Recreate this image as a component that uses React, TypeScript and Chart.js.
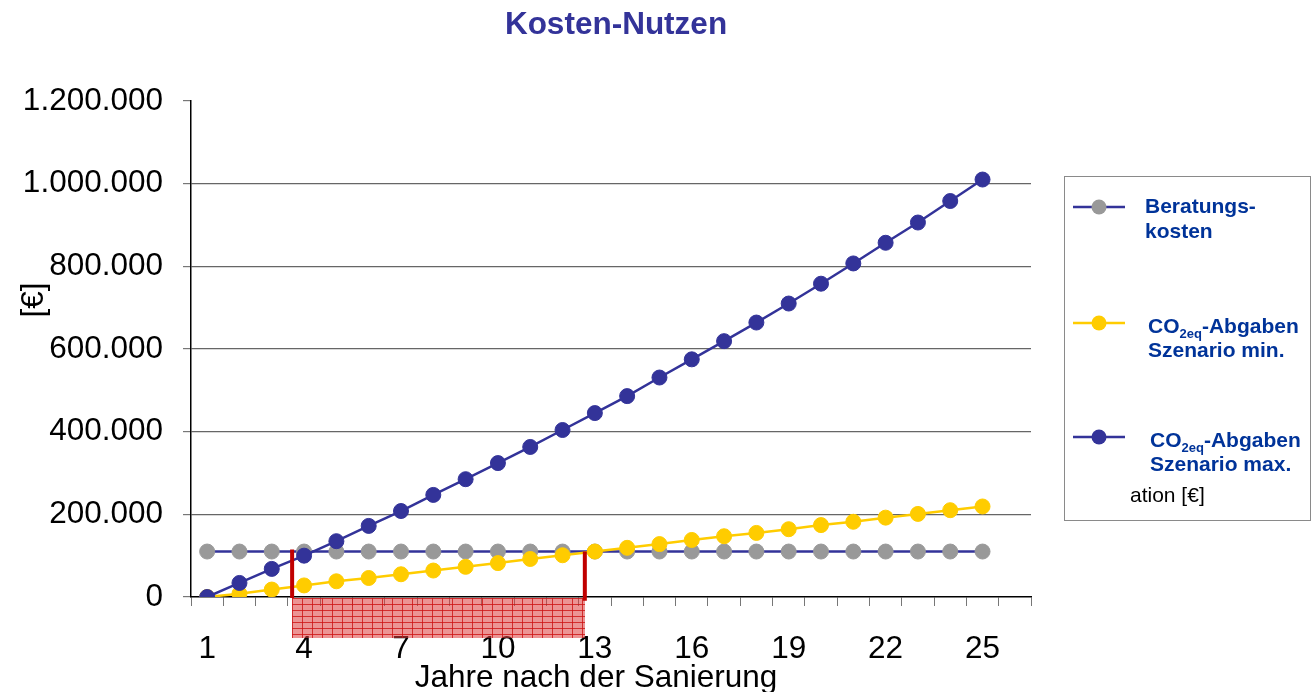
import React, { useEffect, useRef } from 'react';
import { Chart, registerables } from 'chart.js';

Chart.register(...registerables);

// ---- data ----
const years: string[] = ['1','2','3','4','5','6','7','8','9','10','11','12','13','14','15','16','17','18','19','20','21','22','23','24','25','26'];
const xTickLabels: string[] = ['1','4','7','10','13','16','19','22','25'];
const yTicks: number[] = [0, 200000, 400000, 600000, 800000, 1000000, 1200000];

const beratungskosten: number[] = [110000,110000,110000,110000,110000,110000,110000,110000,110000,110000,110000,110000,110000,110000,110000,110000,110000,110000,110000,110000,110000,110000,110000,110000,110000];
const szenarioMin: number[] = [0,8000,18000,28000,38000,46000,55000,64000,73000,82000,92000,101000,110000,119000,128000,138000,147000,155000,164000,174000,182000,192000,201000,210000,219000];
const szenarioMax: number[] = [0,34000,68000,100000,135000,172000,208000,247000,285000,324000,363000,404000,445000,486000,531000,575000,619000,664000,710000,758000,807000,857000,906000,958000,1010000];

// payback markers (in years) and their vertical extents (in €)
const paybackStartYear = 3.63;
const paybackEndYear = 12.69;
const paybackStartTop = 115000;
const paybackEndTop = 110000;
const paybackEndBottom = -9000;
const bandBottom = -96000;

const FONT = "'Liberation Sans', Arial, Helvetica, sans-serif";
const BLUE = '#333399';
const YELLOW = '#FFCC00';
const GRAY = '#999999';
const LEGEND_BLUE = '#003399';

const fmt = (v: number) => String(Math.round(v)).replace(/\B(?=(\d{3})+(?!\d))/g, '.');

function makePattern(ctx: CanvasRenderingContext2D) {
  const pc = document.createElement('canvas');
  pc.width = 10;
  pc.height = 6;
  const p = pc.getContext('2d')!;
  p.fillStyle = 'rgba(220,60,60,0.55)';
  p.fillRect(0, 0, 10, 6);
  p.fillStyle = 'rgba(205,20,20,0.8)';
  p.fillRect(0, 0, 10, 1);
  p.fillRect(0, 0, 1, 6);
  return ctx.createPattern(pc, 'repeat')!;
}

const overlayPlugin = {
  id: 'overlay',
  afterDraw(chart: any) {
    const ctx: CanvasRenderingContext2D = chart.ctx;
    const xs = chart.scales.x;
    const ys = chart.scales.y;
    ctx.save();

    // hatched payback band
    const x0 = xs.getPixelForValue(paybackStartYear - 1);
    const x1 = xs.getPixelForValue(paybackEndYear - 1);
    const yTop = ys.getPixelForValue(0);
    const yBot = ys.getPixelForValue(bandBottom);
    ctx.save();
    ctx.translate(Math.round(x0), Math.round(yTop) + 1);
    ctx.fillStyle = makePattern(ctx);
    ctx.fillRect(0, 0, Math.round(x1 - x0), Math.round(yBot - yTop));
    ctx.restore();

    // red vertical markers
    ctx.strokeStyle = '#C00000';
    ctx.lineWidth = 4;
    ctx.beginPath();
    ctx.moveTo(x0, ys.getPixelForValue(paybackStartTop));
    ctx.lineTo(x0, ys.getPixelForValue(0) + 1);
    ctx.moveTo(x1, ys.getPixelForValue(paybackEndTop));
    ctx.lineTo(x1, ys.getPixelForValue(paybackEndBottom));
    ctx.stroke();

    // title
    ctx.fillStyle = BLUE;
    ctx.font = `bold 31.5px ${FONT}`;
    ctx.textAlign = 'center';
    ctx.textBaseline = 'alphabetic';
    ctx.fillText('Kosten-Nutzen', 616, 34);

    // axis titles
    ctx.fillStyle = '#000';
    ctx.font = `31.5px ${FONT}`;
    ctx.fillText('Jahre nach der Sanierung', 596, 687);
    ctx.save();
    ctx.translate(43, 300);
    ctx.rotate(-Math.PI / 2);
    ctx.fillText('[€]', 0, 0);
    ctx.restore();

    // legend box
    ctx.strokeStyle = '#8a8a8a';
    ctx.lineWidth = 1;
    ctx.strokeRect(1064.5, 176.5, 246, 344);

    const drawKey = (y: number, line: string, fill: string) => {
      ctx.strokeStyle = line;
      ctx.lineWidth = 2.5;
      ctx.beginPath();
      ctx.moveTo(1073, y);
      ctx.lineTo(1125, y);
      ctx.stroke();
      ctx.fillStyle = fill;
      ctx.beginPath();
      ctx.arc(1099, y, 7.5, 0, Math.PI * 2);
      ctx.fill();
    };
    drawKey(207, BLUE, GRAY);
    drawKey(323, YELLOW, YELLOW);
    drawKey(437, BLUE, BLUE);

    ctx.textAlign = 'left';
    ctx.fillStyle = LEGEND_BLUE;
    ctx.font = `bold 21px ${FONT}`;
    ctx.fillText('Beratungs-', 1145, 213);
    ctx.fillText('kosten', 1145, 238);

    const co2 = (x: number, y: number) => {
      ctx.font = `bold 21px ${FONT}`;
      ctx.fillText('CO', x, y);
      let w = ctx.measureText('CO').width;
      ctx.font = `bold 13px ${FONT}`;
      ctx.fillText('2eq', x + w, y + 5);
      w += ctx.measureText('2eq').width;
      ctx.font = `bold 21px ${FONT}`;
      ctx.fillText('-Abgaben', x + w, y);
    };
    co2(1148, 333);
    ctx.fillText('Szenario min.', 1148, 357);
    co2(1150, 447);
    ctx.fillText('Szenario max.', 1150, 471);

    ctx.fillStyle = '#000';
    ctx.font = `21px ${FONT}`;
    ctx.fillText('ation [€]', 1130, 502);

    ctx.restore();
  },
};

export default function App() {
  const ref = useRef<HTMLCanvasElement>(null);

  useEffect(() => {
    document.body.style.margin = '0';
    const ctx = ref.current!.getContext('2d')!;
    const ds = (label: string, data: number[], line: string, fill: string) => ({
      label,
      data,
      borderColor: line,
      backgroundColor: fill,
      pointBackgroundColor: fill,
      pointBorderColor: fill,
      pointRadius: 7.5,
      pointBorderWidth: 1,
      borderWidth: 2.5,
      tension: 0,
      fill: false,
    });
    const chart = new Chart(ctx, {
      type: 'line',
      data: {
        labels: years,
        datasets: [
          ds('CO2eq-Abgaben Szenario max.', szenarioMax, BLUE, BLUE),
          ds('CO2eq-Abgaben Szenario min.', szenarioMin, YELLOW, YELLOW),
          ds('Beratungskosten', beratungskosten, BLUE, GRAY),
        ],
      },
      options: {
        responsive: false,
        animation: false,
        layout: { padding: { top: 101, right: 284, left: 0, bottom: 0 } },
        plugins: {
          legend: { display: false },
          title: { display: false },
          tooltip: { enabled: false },
        },
        scales: {
          x: {
            type: 'category',
            offset: true,
            afterFit: (s: any) => { s.height = 95; },
            grid: {
              offset: true,
              drawOnChartArea: false,
              drawTicks: true,
              tickLength: 9,
              tickColor: '#777',
              tickWidth: 1,
            },
            border: { display: true, color: '#000', width: 1.5 },
            ticks: {
              autoSkip: false,
              maxRotation: 0,
              padding: 24,
              color: '#000',
              font: { family: FONT, size: 31.5 },
              callback: function (this: any, _v: any, i: number) {
                const lab = years[i];
                return xTickLabels.includes(lab) ? lab : '';
              },
            },
          },
          y: {
            min: 0,
            max: 1200000,
            afterFit: (s: any) => { s.width = 191; },
            afterBuildTicks: (s: any) => { s.ticks = yTicks.map((v) => ({ value: v })); },
            grid: {
              color: (c: any) => (c.tick && (c.tick.value === 1200000 || c.tick.value === 0) ? 'rgba(0,0,0,0)' : '#666'),
              tickColor: '#777',
              tickLength: 8,
              lineWidth: 1.2,
            },
            border: { display: true, color: '#000', width: 1.5 },
            ticks: {
              padding: 20,
              color: '#000',
              font: { family: FONT, size: 31.5 },
              callback: (v: any) => fmt(Number(v)),
            },
          },
        },
      },
      plugins: [overlayPlugin],
    });
    return () => chart.destroy();
  }, []);

  return (
    <div style={{ position: 'fixed', left: 0, top: 0, width: 1315, height: 692, background: '#fff' }}>
      <canvas ref={ref} width={1315} height={692} style={{ display: 'block' }} />
    </div>
  );
}
